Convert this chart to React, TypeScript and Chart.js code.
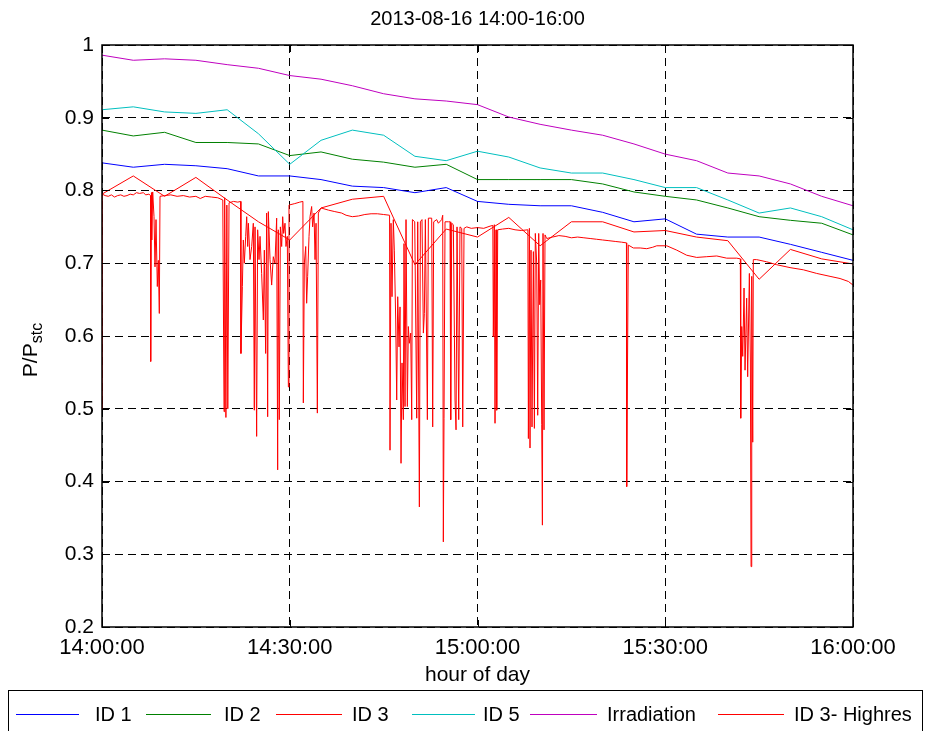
import React, { useEffect, useRef } from "react";
import { Chart, registerables } from "chart.js";

Chart.register(...registerables);

// ---------- data ----------
const titleText = "2013-08-16 14:00-16:00";
const xAxisLabel = "hour of day";
const yTickValues = [0.2, 0.3, 0.4, 0.5, 0.6, 0.7, 0.8, 0.9, 1];
const xTickMinutes = [0, 30, 60, 90, 120]; // minutes after 14:00

// 5-minute samples, minutes after 14:00
const coarseMinutes = [0, 5, 10, 15, 20, 25, 30, 35, 40, 45, 50, 55, 60, 65, 70, 75, 80, 85, 90, 95, 100, 105, 110, 115, 120];

const id1 = [0.838, 0.832, 0.836, 0.834, 0.830, 0.820, 0.820, 0.815, 0.806, 0.804, 0.797, 0.804, 0.785, 0.781, 0.779, 0.779, 0.770, 0.757, 0.761, 0.740, 0.736, 0.736, 0.726, 0.715, 0.704];
const id2 = [0.883, 0.875, 0.880, 0.866, 0.866, 0.864, 0.848, 0.853, 0.843, 0.839, 0.832, 0.836, 0.815, 0.815, 0.815, 0.815, 0.809, 0.798, 0.792, 0.787, 0.776, 0.764, 0.759, 0.755, 0.739];
const id3 = [0.795, 0.820, 0.792, 0.818, 0.787, 0.757, 0.732, 0.776, 0.788, 0.792, 0.698, 0.747, 0.736, 0.763, 0.724, 0.757, 0.757, 0.743, 0.745, 0.736, 0.731, 0.678, 0.719, 0.706, 0.699];
const id5 = [0.911, 0.915, 0.908, 0.906, 0.911, 0.878, 0.836, 0.869, 0.883, 0.876, 0.847, 0.841, 0.854, 0.846, 0.831, 0.824, 0.824, 0.815, 0.804, 0.804, 0.787, 0.769, 0.776, 0.764, 0.746];
const irradiation = [0.986, 0.979, 0.981, 0.979, 0.973, 0.968, 0.958, 0.953, 0.944, 0.933, 0.926, 0.923, 0.918, 0.901, 0.891, 0.883, 0.876, 0.864, 0.850, 0.841, 0.824, 0.820, 0.809, 0.792, 0.779];

// high resolution ID 3, minutes after 14:00
const hiresMinutes = [
  0, 0.05, 0.5, 1.0, 1.5, 2.0, 2.5, 3.0, 3.5, 4.0, 4.5, 5.0, 5.5, 6.0, 6.6, 7.0, 7.5, 7.75,
  7.78, 7.9, 7.94, 8.1, 8.31, 8.47, 8.63, 8.84, 9.0, 9.16, 9.27,
  10, 11, 12, 13, 14, 15, 15.7, 16.5, 17.5, 18.5, 19.3,
  19.5, 19.6, 19.8, 19.95, 20.1, 20.3, 21.0, 21.7, 22.15,
  22.2, 22.43, 22.58, 22.74, 22.96, 23.12, 23.28, 23.39, 23.65, 23.92, 24.18, 24.34, 24.45, 24.71, 24.87,
  25.09, 25.25, 25.51, 25.78, 25.94, 26.15, 26.31, 26.47, 26.58, 26.85, 27.11, 27.37, 27.64, 27.91,
  28.07, 28.17, 28.33, 28.5, 28.71, 28.87, 29.03, 29.24, 29.4, 29.61, 29.78, 29.88,
  30.8, 31.6, 32.1,
  32.17, 32.33, 32.55, 32.7, 32.86, 33.08, 33.24, 33.5, 33.66, 33.88, 34.04, 34.2, 34.41, 34.57,
  35.0, 36.2, 37.2, 38.3, 39.0, 40.0, 41.0, 42.0, 43.0, 44.0, 45.0, 45.95,
  46.02, 46.18, 46.34, 46.55, 46.71, 46.93, 47.09, 47.25, 47.46, 47.62, 47.78, 47.94, 48.15, 48.26,
  48.42, 48.58, 48.79, 48.95, 49.11, 49.33, 49.49, 49.6, 49.97, 50.29, 50.45, 50.71, 50.87, 51.13,
  51.35, 51.51, 51.67, 51.99, 52.15, 52.68, 52.84, 53.0, 53.48, 53.75, 54.28, 54.44, 54.54, 54.65,
  54.81, 55.34, 55.61, 55.72, 55.88, 56.14, 56.41, 56.57, 56.73, 57.0, 57.2, 57.48, 57.64, 57.85, 58.28,
  59.0, 60.0, 61.0, 62.0, 62.45,
  62.53, 62.69, 62.8, 62.96, 63.07, 63.23,
  64.0, 65.0, 66.0, 67.0, 68.05,
  68.13, 68.29, 68.39, 68.55, 68.71, 68.93, 69.09, 69.24, 69.46, 69.62, 69.78, 69.94, 70.1, 70.26,
  70.37, 70.47, 70.63, 70.79, 71.06,
  72, 73, 74, 75, 76, 77, 78, 79, 80, 81, 82, 83, 83.8,
  83.84, 84.1, 84.9, 86.0, 87.04, 88.0, 88.64, 90.24, 91.84, 93.43, 95.03, 96.63, 98.23, 99.82, 101.42, 102.0,
  102.06, 102.22, 102.38, 102.59, 102.75, 103.01, 103.17, 103.44, 103.6, 103.71, 103.82, 103.98, 104.07,
  104.6, 106.2, 107.8, 109.94, 112.07, 114.2, 116.33, 117.93, 119.26, 120
];
const hiresValues = [
  0.500, 0.795, 0.793, 0.792, 0.794, 0.791, 0.793, 0.794, 0.792, 0.793, 0.795, 0.794, 0.797, 0.796, 0.797, 0.794, 0.795, 0.793,
  0.565, 0.797, 0.732, 0.798, 0.764, 0.695, 0.760, 0.668, 0.704, 0.631, 0.792,
  0.793, 0.794, 0.792, 0.793, 0.791, 0.792, 0.789, 0.792, 0.791, 0.790, 0.787,
  0.496, 0.790, 0.488, 0.780, 0.500, 0.783, 0.785, 0.784, 0.785,
  0.576, 0.668, 0.732, 0.700, 0.737, 0.764, 0.723, 0.755, 0.705, 0.723, 0.755, 0.498, 0.750, 0.462, 0.746,
  0.705, 0.737, 0.686, 0.622, 0.718, 0.576, 0.769, 0.489, 0.771, 0.705, 0.670, 0.709, 0.700, 0.762,
  0.416, 0.746, 0.485, 0.750, 0.723, 0.764, 0.741, 0.755, 0.723, 0.737, 0.530, 0.780,
  0.782, 0.784, 0.785,
  0.508, 0.700, 0.723, 0.645, 0.682, 0.737, 0.764, 0.778, 0.750, 0.769, 0.705, 0.755, 0.494, 0.769,
  0.776, 0.773, 0.771, 0.769, 0.766, 0.764, 0.765, 0.767, 0.768, 0.768, 0.767, 0.766,
  0.443, 0.755, 0.654, 0.760, 0.718, 0.622, 0.512, 0.654, 0.585, 0.640, 0.425, 0.563, 0.485, 0.727,
  0.503, 0.760, 0.503, 0.613, 0.590, 0.604, 0.485, 0.760, 0.757, 0.487, 0.757, 0.365, 0.757, 0.760,
  0.604, 0.631, 0.760, 0.485, 0.762, 0.762, 0.475, 0.757, 0.760, 0.755, 0.760, 0.766, 0.317, 0.487,
  0.757, 0.757, 0.757, 0.485, 0.755, 0.753, 0.512, 0.471, 0.750, 0.485, 0.750, 0.748, 0.475, 0.748, 0.750,
  0.748, 0.749, 0.748, 0.751, 0.752,
  0.599, 0.753, 0.480, 0.746, 0.498, 0.746,
  0.747, 0.748, 0.746, 0.745, 0.746,
  0.459, 0.748, 0.446, 0.718, 0.475, 0.716, 0.473, 0.741, 0.700, 0.491, 0.741, 0.643, 0.677, 0.478,
  0.340, 0.741, 0.471, 0.739, 0.734,
  0.736, 0.738, 0.737, 0.735, 0.736, 0.735, 0.734, 0.733, 0.732, 0.731, 0.730, 0.729, 0.728,
  0.393, 0.725, 0.721, 0.721, 0.720, 0.722, 0.724, 0.724, 0.718, 0.711, 0.708, 0.709, 0.710, 0.707, 0.707, 0.706,
  0.487, 0.613, 0.572, 0.666, 0.553, 0.652, 0.544, 0.686, 0.567, 0.283, 0.682, 0.454, 0.705,
  0.705, 0.702, 0.698, 0.694, 0.691, 0.686, 0.682, 0.679, 0.675, 0.670
];

const seriesLabels = ["ID 1", "ID 2", "ID 3", "ID 5", "Irradiation", "ID 3- Highres"];
const seriesColors = ["#0000ff", "#008000", "#ff0000", "#00bfbf", "#bf00bf", "#ff0000"];

// ---------- styling / layout ----------
const FONT = "'Liberation Sans', Arial, Helvetica, sans-serif";
const W = 927;
const H = 731;
const PLOT = { left: 102, top: 45, right: 853, bottom: 627 };
const LEGEND_ITEMS = [
  { x1: 16, x2: 79, tx: 95 },
  { x1: 146, x2: 211, tx: 224 },
  { x1: 276, x2: 342, tx: 352 },
  { x1: 412, x2: 475, tx: 483 },
  { x1: 530, x2: 597, tx: 607 },
  { x1: 718, x2: 784, tx: 794 },
];

function fmtTime(v: number): string {
  const total = 14 * 60 + Math.round(v);
  const h = Math.floor(total / 60);
  const m = total % 60;
  return `${h}:${String(m).padStart(2, "0")}:00`;
}

function fmtY(v: number): string {
  return String(Math.round(v * 10) / 10);
}

const overlayPlugin = {
  id: "matlabOverlay",
  afterDatasetsDraw(chart: any) {
    const { ctx, chartArea } = chart;
    const xs = chart.scales.x;
    const ys = chart.scales.y;
    ctx.save();
    ctx.strokeStyle = "#000";
    ctx.lineWidth = 1;
    ctx.setLineDash([]);
    const tl = 7;
    ctx.beginPath();
    for (const v of yTickValues) {
      const y = Math.round(ys.getPixelForValue(v)) + 0.5;
      ctx.moveTo(chartArea.left, y);
      ctx.lineTo(chartArea.left + tl, y);
      ctx.moveTo(chartArea.right, y);
      ctx.lineTo(chartArea.right - tl, y);
    }
    for (const v of xTickMinutes) {
      const x = Math.round(xs.getPixelForValue(v)) + 0.5;
      ctx.moveTo(x, chartArea.bottom);
      ctx.lineTo(x, chartArea.bottom - tl);
      ctx.moveTo(x, chartArea.top);
      ctx.lineTo(x, chartArea.top + tl);
    }
    ctx.stroke();
    ctx.lineWidth = 1.5;
    ctx.strokeRect(chartArea.left, chartArea.top, chartArea.right - chartArea.left, chartArea.bottom - chartArea.top);
    ctx.restore();
  },
  afterDraw(chart: any) {
    const { ctx, chartArea } = chart;
    const cx = (chartArea.left + chartArea.right) / 2;
    ctx.save();
    ctx.fillStyle = "#000";
    ctx.textBaseline = "middle";
    // title
    ctx.font = `20px ${FONT}`;
    ctx.textAlign = "center";
    ctx.fillText(titleText, cx, 19);
    // x label
    ctx.font = `21px ${FONT}`;
    ctx.fillText(xAxisLabel, cx, 675);
    // y label with subscript
    ctx.save();
    ctx.translate(31, (chartArea.top + chartArea.bottom) / 2 + 14);
    ctx.rotate(-Math.PI / 2);
    ctx.textAlign = "left";
    ctx.font = `21px ${FONT}`;
    const w1 = ctx.measureText("P/P").width;
    ctx.font = `16px ${FONT}`;
    const w2 = ctx.measureText("stc").width;
    const start = -(w1 + w2) / 2;
    ctx.font = `21px ${FONT}`;
    ctx.fillText("P/P", start, 0);
    ctx.font = `16px ${FONT}`;
    ctx.fillText("stc", start + w1, 7);
    ctx.restore();
    // legend
    ctx.strokeStyle = "#000";
    ctx.lineWidth = 1;
    ctx.strokeRect(8.5, 690.5, 914, 60);
    ctx.font = `20px ${FONT}`;
    ctx.textAlign = "left";
    const ly = 714;
    chart.data.datasets.forEach((ds: any, i: number) => {
      const item = LEGEND_ITEMS[i];
      ctx.strokeStyle = ds.borderColor;
      ctx.beginPath();
      ctx.moveTo(item.x1, ly + 0.5);
      ctx.lineTo(item.x2, ly + 0.5);
      ctx.stroke();
      ctx.fillText(ds.label, item.tx, ly + 1);
    });
    ctx.restore();
  },
};

export default function App() {
  const canvasRef = useRef<HTMLCanvasElement | null>(null);

  useEffect(() => {
    const canvas = canvasRef.current;
    if (!canvas) return;
    const coarseSets = [id1, id2, id3, id5, irradiation];
    const datasets: any[] = coarseSets.map((vals, i) => ({
      label: seriesLabels[i],
      data: coarseMinutes.map((m, j) => ({ x: m, y: vals[j] })),
      borderColor: seriesColors[i],
      backgroundColor: seriesColors[i],
      borderWidth: 1,
      pointRadius: 0,
      fill: false,
      tension: 0,
      order: 5 - i,
    }));
    datasets.push({
      label: seriesLabels[5],
      data: hiresMinutes.map((m, j) => ({ x: m, y: hiresValues[j] })),
      borderColor: seriesColors[5],
      backgroundColor: seriesColors[5],
      borderWidth: 1,
      pointRadius: 0,
      fill: false,
      tension: 0,
      order: 0,
    });

    const gridCommon = { color: "#000", lineWidth: 1, drawTicks: false };
    const borderCommon = { display: false, dash: [8, 5] };

    const chart = new Chart(canvas, {
      type: "line",
      data: { datasets },
      options: {
        responsive: false,
        animation: false,
        devicePixelRatio: 1,
        layout: { padding: { left: 0, top: PLOT.top, right: W - PLOT.right, bottom: 0 } },
        plugins: {
          legend: { display: false },
          title: { display: false },
          tooltip: { enabled: false },
        },
        scales: {
          x: {
            type: "linear",
            min: 0,
            max: 120,
            ticks: {
              stepSize: 30,
              autoSkip: false,
              maxRotation: 0,
              padding: 8,
              color: "#000",
              font: { family: FONT, size: 22 },
              callback: (v: any) => fmtTime(Number(v)),
            },
            grid: gridCommon,
            border: borderCommon,
            afterFit: (s: any) => {
              s.height = H - PLOT.bottom;
            },
          },
          y: {
            type: "linear",
            min: 0.2,
            max: 1,
            ticks: {
              stepSize: 0.1,
              padding: 8,
              color: "#000",
              font: { family: FONT, size: 21 },
              callback: (v: any) => fmtY(Number(v)),
            },
            grid: gridCommon,
            border: borderCommon,
            afterFit: (s: any) => {
              s.width = PLOT.left;
            },
          },
        },
      } as any,
      plugins: [overlayPlugin],
    });
    return () => chart.destroy();
  }, []);

  return (
    <div style={{ position: "fixed", left: 0, top: 0, width: W, height: H, background: "#fff" }}>
      <canvas ref={canvasRef} width={W} height={H} style={{ width: W, height: H, display: "block" }} />
    </div>
  );
}
